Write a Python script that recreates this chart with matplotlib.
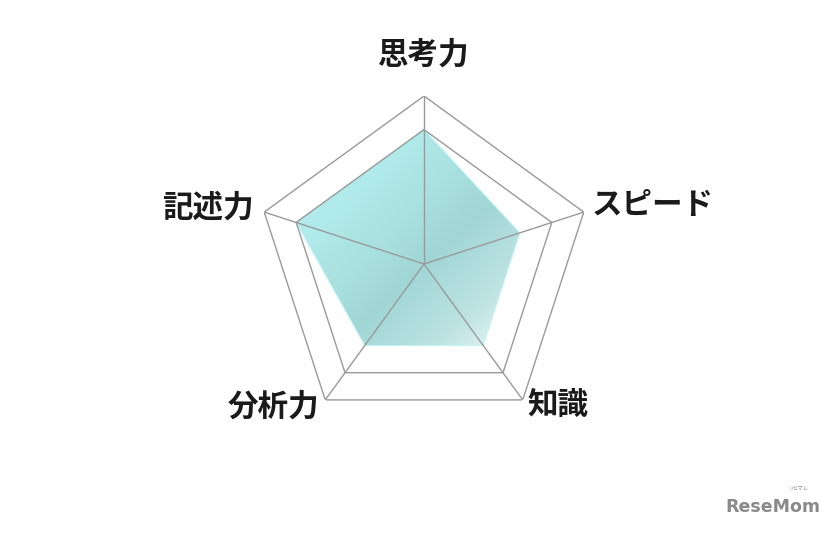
import numpy as np
import matplotlib
matplotlib.use('Agg')
import matplotlib.pyplot as plt
from matplotlib.colors import LinearSegmentedColormap

# data
labels = ['思考力', 'スピード', '知識', '分析力', '記述力']
values = [4, 3, 3, 3, 4]
rings = [4, 5]
r_max = 5

plt.rcParams['font.family'] = ['Noto Sans CJK JP', 'DejaVu Sans']

W, H = 836, 533
fig = plt.figure(figsize=(W / 100, H / 100), dpi=100)

# overlay axes in pixel coords for the gradient fill
bg = fig.add_axes([0, 0, 1, 1], zorder=0)
bg.set_xlim(0, W)
bg.set_ylim(H, 0)
bg.axis('off')

# polar axes, square in pixels so aspect does not move it
cx, cy, R = 424, 264, 168
ax = fig.add_axes([(cx - R) / W, (H - cy - R) / H, 2 * R / W, 2 * R / H],
                  projection='polar', zorder=1)
ax.patch.set_alpha(0)
ax.set_theta_offset(np.pi / 2)
ax.set_theta_direction(-1)
ax.set_ylim(0, r_max)
ax.grid(False)
ax.set_xticks([])
ax.set_yticks([])
ax.spines['polar'].set_visible(False)

n = len(labels)
theta = np.arange(n) * 2 * np.pi / n
theta_c = np.append(theta, theta[0])
vals_c = np.append(values, values[0])

# invisible fill used as clip path for gradient
poly = ax.fill(theta_c, vals_c, facecolor='none', edgecolor='none')[0]
ax.plot(theta_c, vals_c, color='#c4f4f4', lw=0.8, zorder=1)

cmap = LinearSegmentedColormap.from_list('fillgrad', [
    (0.0, '#b8f0f0'), (0.3, '#b1eaea'), (0.6, '#a1d6d6'),
    (0.8, '#bde2e2'), (1.0, '#f4fbfb')])
gx, gy = np.meshgrid(np.linspace(0, 1, 300), np.linspace(0, 1, 300))
grad = (gx + gy) / 2
im = bg.imshow(grad, cmap=cmap, extent=[290, 525, 350, 122], aspect='auto',
               interpolation='bilinear')
im.set_clip_path(poly)

# grid rings and spokes
for r in rings:
    ax.plot(theta_c, [r] * (n + 1), color='#9a9a9a', lw=1.0, zorder=3)
for t in theta:
    ax.plot([t, t], [0, r_max], color='#9a9a9a', lw=1.0, zorder=3)

# labels
offsets = [(0, 41, 'center'), (8, 7, 'left'), (5, -6, 'left'),
           (-6, -7, 'right'), (-11, 5, 'right')]
for t, lab, (dx, dy, ha) in zip(theta, labels, offsets):
    ax.annotate(lab, xy=(t, r_max), xytext=(dx, dy), textcoords='offset pixels',
                ha=ha, va='center', fontsize=22, fontweight='bold',
                color='#1a1a1a', annotation_clip=False)

# logo
fig.text(0.925, 0.048, 'ReseMom', ha='center', va='center', fontsize=12.5,
         fontweight='bold', color='#8a8a8a', family='DejaVu Sans')
fig.text(0.955, 0.085, 'リセマム', ha='center', va='center', fontsize=3.5,
         color='#8a8a8a')

fig.savefig('out.png', dpi=100)
